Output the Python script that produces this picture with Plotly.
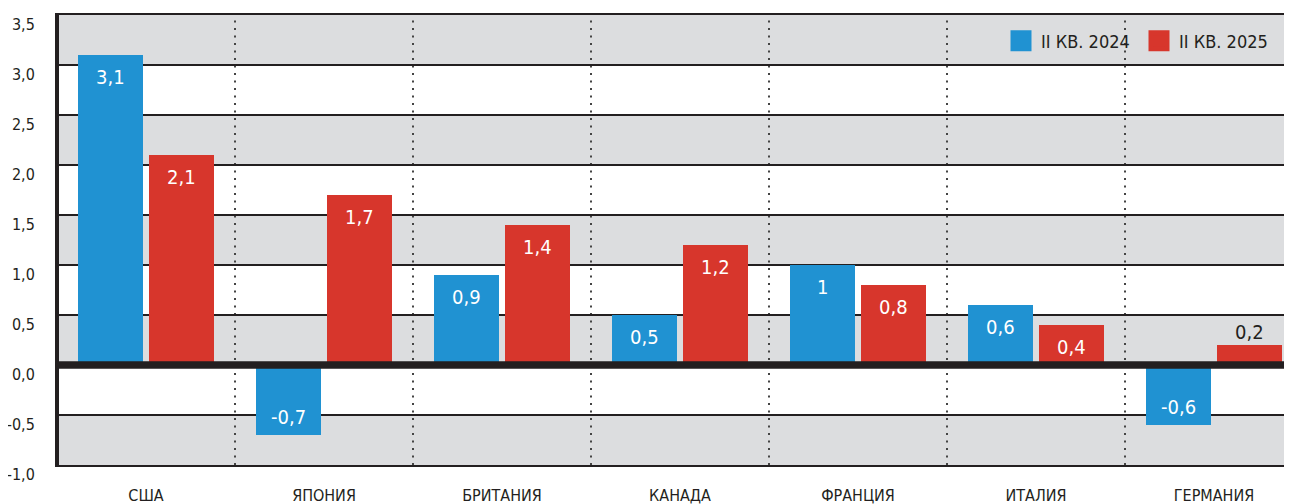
import plotly.graph_objects as go

categories = ["США", "ЯПОНИЯ", "БРИТАНИЯ", "КАНАДА", "ФРАНЦИЯ", "ИТАЛИЯ", "ГЕРМАНИЯ"]
series_names = ["II КВ. 2024", "II КВ. 2025"]
q2_2024 = [3.1, -0.7, 0.9, 0.5, 1.0, 0.6, -0.6]
q2_2025 = [2.1, 1.7, 1.4, 1.2, 0.8, 0.4, 0.2]
labels_2024 = ["3,1", "-0,7", "0,9", "0,5", "1", "0,6", "-0,6"]
labels_2025 = ["2,1", "1,7", "1,4", "1,2", "0,8", "0,4", "0,2"]
y_ticks = [-1.0, -0.5, 0.0, 0.5, 1.0, 1.5, 2.0, 2.5, 3.0, 3.5]
y_tick_labels = ["-1,0", "-0,5", "0,0", "0,5", "1,0", "1,5", "2,0", "2,5", "3,0", "3,5"]

FONT = "DejaVu Sans Condensed, DejaVu Sans, sans-serif"
DARK = "#231f20"
BLUE = "#2092d2"
RED = "#d7362c"
GRAY = "#dcdddf"

# the page body has an 8px default margin: size the figure to fill the rest
BODY = 8
PAGE_W, PAGE_H = 1292, 504
PLOT_L, PLOT_T, PLOT_B = 59, 15, 465   # plot area edges in page pixels

idx = list(range(len(categories)))
CAT_PX = 178.0          # pixel width of one category slot
W = 65 / CAT_PX         # bar width in category units
OFF = [-68 / CAT_PX, 3 / CAT_PX]  # bar left offsets from category centre

fig = go.Figure()
series = [(q2_2024, labels_2024, BLUE), (q2_2025, labels_2025, RED)]
for (vals, labs, col), name, off in zip(series, series_names, OFF):
    fig.add_trace(go.Bar(
        x=idx, y=vals, width=W, offset=off, name=name,
        marker=dict(color=col, line=dict(width=0)), showlegend=False,
        hovertext=labs, hoverinfo="x+text",
    ))

# value labels tied to the bar ends (data coordinates)
annotations = []
for (vals, labs, col), off in zip(series, OFF):
    for i, (v, t) in enumerate(zip(vals, labs)):
        fits = abs(v) >= 0.3
        if fits:
            ys = -22 if v > 0 else 18
            color = "white"
        else:
            ys = 13 if v > 0 else -13
            color = DARK
        annotations.append(dict(
            x=i + off + W / 2, y=v, xref="x", yref="y", text=t, showarrow=False,
            yshift=ys, font=dict(family=FONT, size=20, color=color),
            xanchor="center", yanchor="middle",
        ))

# legend entries (bigger squares than bar legend glyphs)
for name, col in zip(series_names, [BLUE, RED]):
    fig.add_trace(go.Scatter(
        x=[None], y=[None], mode="markers", name=name,
        marker=dict(symbol="square", size=18, color=col, line=dict(color=col, width=5)),
    ))

shapes = []
# alternating gray bands
for i in range(len(y_ticks) - 1):
    if i % 2 == 0:
        shapes.append(dict(type="rect", xref="paper", yref="y", x0=0, x1=1,
                           y0=y_ticks[i], y1=y_ticks[i + 1],
                           fillcolor=GRAY, line=dict(width=0), layer="below"))
# dotted separators between categories
for i in range(len(categories) - 1):
    shapes.append(dict(type="line", xref="x", yref="paper", x0=i + 0.5, x1=i + 0.5, y0=0, y1=1,
                       line=dict(color="#444", width=2, dash="2px,5.5px"), layer="below"))
# thick zero line on top
shapes.append(dict(type="line", xref="paper", yref="y", x0=0, x1=1, y0=0, y1=0,
                   line=dict(color=DARK, width=7.5), layer="above"))

plot_w = PAGE_W - PLOT_L
fig.update_layout(
    width=PAGE_W - BODY, height=PAGE_H - BODY,
    margin=dict(l=PLOT_L - BODY, r=0, t=PLOT_T - BODY, b=PAGE_H - PLOT_B, autoexpand=False),
    paper_bgcolor="white", plot_bgcolor="white",
    font=dict(family=FONT, color=DARK, size=16),
    barmode="overlay",
    shapes=shapes,
    annotations=annotations,
    showlegend=True,
    legend=dict(orientation="h", x=(1001 - PLOT_L) / plot_w, xanchor="left",
                y=0.983, yanchor="top",
                bgcolor="rgba(0,0,0,0)", font=dict(size=18, family=FONT, color=DARK),
                itemsizing="trace", entrywidth=93),
    xaxis=dict(
        range=[-0.5 + (PLOT_L - 57) / CAT_PX, -0.5 + (PAGE_W - 57) / CAT_PX],
        tickmode="array", tickvals=idx, ticktext=categories,
        showgrid=False, zeroline=False, showline=True, mirror=True, linecolor=DARK, linewidth=2,
        ticks="", ticklabelstandoff=15, tickfont=dict(size=16), automargin=False,
        ticklabeloverflow="allow",
    ),
    yaxis=dict(
        range=[-1.0, 3.5], tickmode="array", tickvals=y_ticks, ticktext=y_tick_labels,
        showgrid=True, gridcolor=DARK, gridwidth=1.5, zeroline=False,
        showline=True, linecolor=DARK, linewidth=4,
        ticks="", ticklabelstandoff=17, ticklabelshift=9, tickfont=dict(size=16),
        automargin=False, ticklabeloverflow="allow",
    ),
)

fig.write_html("out.html")
